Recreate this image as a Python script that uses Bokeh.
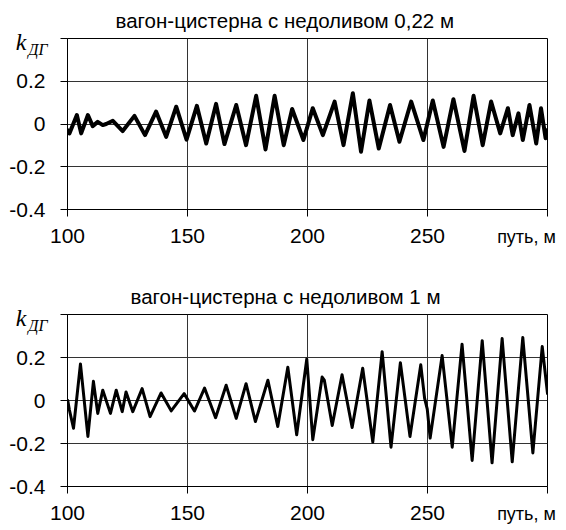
from bokeh.plotting import figure
from bokeh.layouts import column
from bokeh.models import FixedTicker, Range1d, Title, LinearAxis
from bokeh.embed import file_html
from bokeh.resources import INLINE

# ---- data ----
x_ticks = [100, 150, 200, 250, 300]
x_tick_labels = ["100", "150", "200", "250", ""]
y_ticks = [-0.4, -0.2, 0, 0.2, 0.4]
y_tick_labels = ["-0.4", "-0.2", "0", "0.2", ""]

title_top = "вагон-цистерна с недоливом 0,22 м"
title_bottom = "вагон-цистерна с недоливом 1 м"
x_label = "путь, м"
y_symbol = "k"
y_subscript = "ДГ"

# panel 1: unfilled by 0.22 m (extrema of the trace)
x_022 = [100.1, 100.8, 103.9, 105.7, 108.5, 110.5, 112.6, 114.7, 116.1, 118.9,
         123.0, 127.9, 132.3, 136.9, 141.1, 145.3, 149.6, 153.9, 157.8, 161.9,
         165.4, 170.3, 174.4, 178.6, 182.5, 186.3, 190.1, 193.6, 198.3, 202.2,
         206.4, 211.3, 215.0, 218.9, 222.3, 225.8, 229.7, 234.4, 238.3, 243.2,
         248.3, 252.2, 256.7, 260.8, 265.4, 269.2, 273.0, 276.5, 280.3, 283.5,
         285.5, 287.9, 289.7, 292.5, 295.3, 297.3, 299.2, 300.0]
k_022 = [-0.030, -0.044, 0.042, -0.044, 0.042, -0.010, 0.010, -0.005, 0.000, 0.015,
         -0.033, 0.038, -0.052, 0.058, -0.060, 0.081, -0.073, 0.085, -0.091, 0.094,
         -0.094, 0.089, -0.099, 0.132, -0.119, 0.132, -0.099, 0.070, -0.075, 0.074,
         -0.052, 0.105, -0.099, 0.144, -0.130, 0.110, -0.115, 0.089, -0.083, 0.105,
         -0.075, 0.110, -0.107, 0.116, -0.126, 0.132, -0.099, 0.105, -0.044, 0.074,
         -0.052, 0.050, -0.075, 0.089, -0.091, 0.074, -0.067, -0.028]

# panel 2: unfilled by 1 m
x_1 = [100.1, 100.8, 102.5, 105.4, 108.5, 110.8, 112.6, 114.7, 117.9, 120.3,
       122.8, 124.4, 127.2, 131.1, 134.4, 139.0, 143.2, 148.6, 152.9, 157.1,
       161.7, 166.1, 170.3, 174.4, 178.3, 183.5, 187.6, 191.8, 195.5, 199.7,
       202.2, 206.1, 207.0, 210.3, 214.4, 218.6, 223.0, 227.2, 231.1, 234.8,
       238.7, 242.7, 247.2, 248.8, 249.9, 251.1, 256.1, 260.3, 264.4, 268.6,
       272.8, 276.9, 281.1, 285.3, 289.7, 293.9, 297.8, 300.0]
k_1 = [0.000, -0.044, -0.129, 0.170, -0.167, 0.089, -0.060, 0.048, -0.060, 0.048,
       -0.052, 0.040, -0.052, 0.055, -0.075, 0.035, -0.048, 0.032, -0.049, 0.058,
       -0.080, 0.071, -0.083, 0.078, -0.098, 0.094, -0.121, 0.155, -0.159, 0.193,
       -0.182, 0.109, 0.095, -0.116, 0.120, -0.126, 0.150, -0.193, 0.227, -0.217,
       0.176, -0.167, 0.166, 0.010, -0.040, -0.175, 0.209, -0.217, 0.262, -0.279,
       0.278, -0.290, 0.288, -0.285, 0.293, -0.244, 0.251, 0.032]

FONT = "Liberation Sans"
SERIF = "Liberation Serif"


def label_axis(tick, text, standoff, font, size, style="normal"):
    """An axis that only carries one text, used to place texts outside the frame."""
    return LinearAxis(ticker=FixedTicker(ticks=[tick]),
                      major_label_overrides={tick: text},
                      axis_line_color=None, major_tick_line_color=None,
                      minor_tick_line_color=None, major_tick_out=0, major_tick_in=0,
                      minor_tick_out=0, minor_tick_in=0,
                      major_label_standoff=standoff,
                      major_label_text_font=font, major_label_text_font_size=size,
                      major_label_text_font_style=style,
                      major_label_text_color="black")


def make_panel(title, title_offset, xs, ys, height, top_border, frame_h,
               bottom_border, lw):
    p = figure(width=560, height=height,
               x_range=Range1d(100, 300), y_range=Range1d(-0.4, 0.4),
               output_backend="svg", toolbar_location=None, title=None,
               min_border_left=67, min_border_right=13,
               min_border_top=top_border, min_border_bottom=bottom_border)
    p.background_fill_color = "white"
    p.border_fill_color = "white"
    p.outline_line_color = "black"
    p.outline_line_width = 1
    ppu = frame_h / 0.8

    # x axis: ticks + numbers
    xa = p.xaxis[0]
    xa.ticker = FixedTicker(ticks=x_ticks)
    xa.major_label_overrides = {t: s for t, s in zip(x_ticks, x_tick_labels)}
    xa.axis_line_color = "black"
    xa.major_tick_line_color = "black"
    xa.major_tick_out = 7
    xa.major_tick_in = 0
    xa.minor_tick_line_color = None
    xa.major_label_standoff = 12
    xa.major_label_text_font = FONT
    xa.major_label_text_font_size = "21px"
    xa.major_label_text_color = "black"
    # "путь, м" on the row of the x numbers
    p.add_layout(label_axis(291.25, x_label, -19, FONT, "18px"), "below")

    # y axis: ticks only (nearest the frame)
    ya = p.yaxis[0]
    ya.ticker = FixedTicker(ticks=y_ticks)
    ya.major_label_overrides = {t: "" for t in y_ticks}
    ya.axis_line_color = "black"
    ya.major_tick_line_color = "black"
    ya.major_tick_out = 7
    ya.major_tick_in = 0
    ya.minor_tick_line_color = None
    ya.major_label_standoff = 0
    # subscript, symbol and numbers
    p.add_layout(label_axis(round(0.4 - 11.2 / ppu, 4), y_subscript, 13,
                            SERIF, "16px", "italic"), "left")
    p.add_layout(label_axis(round(0.4 - 3.8 / ppu, 4), y_symbol, -1,
                            SERIF, "24px", "italic"), "left")
    ynum = LinearAxis(ticker=FixedTicker(ticks=y_ticks),
                      major_label_overrides={t: s for t, s in zip(y_ticks, y_tick_labels)},
                      axis_line_color=None, major_tick_line_color=None,
                      minor_tick_line_color=None, major_tick_out=0, major_tick_in=0,
                      minor_tick_out=0, major_label_standoff=-33,
                      major_label_text_font=FONT, major_label_text_font_size="21px",
                      major_label_text_color="black")
    p.add_layout(ynum, "left")

    p.xgrid.ticker = FixedTicker(ticks=x_ticks)
    p.ygrid.ticker = FixedTicker(ticks=y_ticks)
    p.xgrid.grid_line_color = "#333333"
    p.ygrid.grid_line_color = "#333333"

    p.line(xs, ys, line_color="black", line_width=lw, line_join="round",
           line_cap="round")

    p.add_layout(Title(text=title, align="left", offset=title_offset,
                       vertical_align="top", standoff=10,
                       text_font=FONT, text_font_size="20.5px",
                       text_font_style="normal", text_color="black"), "above")
    return p


p1 = make_panel(title_top, 48, x_022, k_022, 254, 38, 171, 45, 4)
p2 = make_panel(title_bottom, 63, x_1, k_1, 276, 60, 172, 44, 3)

layout = column(p1, p2, spacing=0)
open("out.html", "w").write(file_html(layout, INLINE))
